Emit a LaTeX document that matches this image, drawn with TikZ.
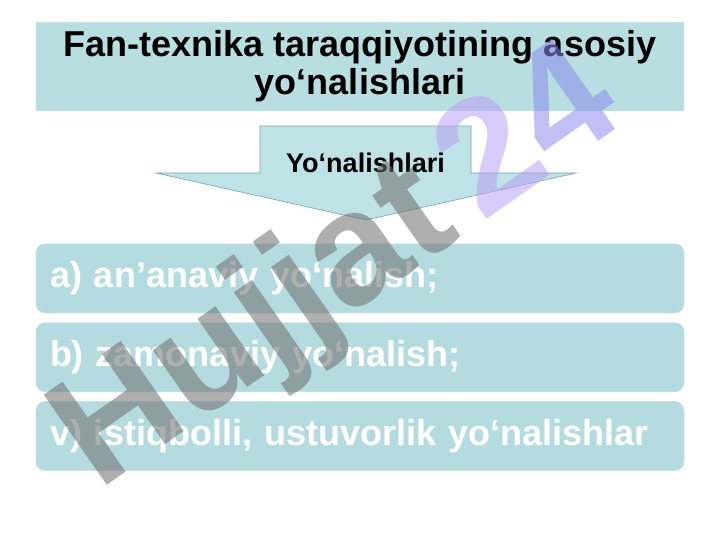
\documentclass[tikz,border=0pt]{standalone}
\usepackage{fontspec}
\setmainfont{Liberation Sans}
\usetikzlibrary{positioning}
\definecolor{bandfill}{RGB}{184,222,225}
\definecolor{arrowfill}{RGB}{190,226,229}
\definecolor{arrowline}{RGB}{120,165,170}
\definecolor{itemfill}{RGB}{180,220,224}
\definecolor{itemline}{RGB}{200,225,228}
\definecolor{wmgray}{RGB}{110,110,110}
\definecolor{wmlilac}{RGB}{185,160,245}
\definecolor{wmblue}{RGB}{140,140,235}

\begin{document}
\begin{tikzpicture}[x=1pt, y=1pt,
        band/.style={fill=bandfill, minimum width=648pt, minimum height=89pt, inner sep=0pt, align=center, font=\fontsize{36}{38}\selectfont\bfseries},
        item/.style={draw=itemline, line width=0.8pt, fill=itemfill, rounded corners=9pt, minimum height=69pt, text width=620pt, inner xsep=14pt, inner ysep=0pt, align=left, text=white, font=\fontsize{36}{40}\selectfont\bfseries},
        wmark/.style={rotate=35, text opacity=0.55, inner sep=0pt, font=\fontsize{160}{160}\selectfont\bfseries},
    ]
    \useasboundingbox (0,0) rectangle (720,540);

    \node[band] (title) at (360,473.5) {Fan-texnika taraqqiyotining asosiy\\yo‘nalishlari};

    % down arrow
    \draw[arrowline, fill=arrowfill, line width=0.6pt] (260,414) -- (471,414) -- (471,367) -- (576,367) -- (366,320) -- (156,367) -- (260,367) -- cycle;
    \node[font=\fontsize{27}{30}\selectfont\bfseries] (dir) at (365.5,377) {Yo‘nalishlari};

    \node[item] (trad) at (360,261.5) {a) an’anaviy yo‘nalish;};
    \node[item, below=9pt of trad] (modern) {b) zamonaviy yo‘nalish;};
    \node[item, below=9pt of modern] (future) {v) istiqbolli, ustuvorlik yo‘nalishlar};

    % watermark
    \node[wmark] (wm) at (340,268) {\color{wmgray}Hujjat\hspace{0.15em}\color{wmlilac}2\color{wmblue}4};
\end{tikzpicture}
\end{document}
